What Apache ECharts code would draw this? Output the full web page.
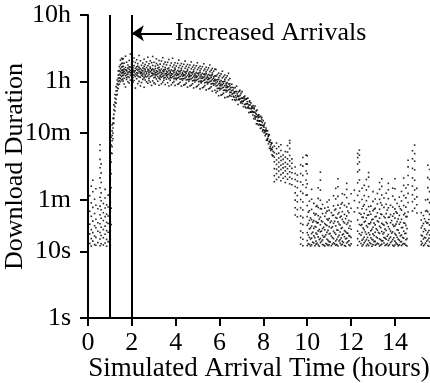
<!DOCTYPE html>
<html>
<head>
<meta charset="utf-8">
<script src="https://cdn.jsdelivr.net/npm/echarts@6/dist/echarts.min.js"></script>
<style>
  html, body { margin: 0; padding: 0; background: #fff; }
  #chart { width: 430px; height: 383px; }
</style>
</head>
<body>
<div id="chart"></div>
<script>
// duration axis ticks (seconds) and their labels
const yTickValues = [1, 10, 60, 600, 3600, 36000];
const yTickLabels = ['1s', '10s', '1m', '10m', '1h', '10h'];

// vertical markers (hours) and the annotation arrow
const markerHours = [1, 2];
const arrowStart = [3.83, 19100];
const arrowEnd = [2.0, 19100];
const arrowText = 'Increased Arrivals';

// each entry: [arrival hour, [download durations in seconds]]
const warmupCols = [
  [0.08, [13.2, 18.4, 25.7, 40.3, 69]],
  [0.15, [12.1, 15.6, 21.3, 33.8, 54, 96]],
  [0.22, [14.3, 19.2, 28.6, 46.1, 79, 118]],
  [0.30, [12.7, 17.1, 24.4, 37.2, 61]],
  [0.36, [12.4, 16.3, 22.8, 30.5, 49.6, 88]],
  [0.45, [13.6, 20.2, 27.1, 43.9]],
  [0.55, [12.2, 15.4, 19.3, 26.2, 35.7, 48.1, 65.4, 91, 128, 182, 243, 331, 402]],
  [0.60, [13.1, 17.4, 23.2, 31.6, 42.5, 57.9, 76, 109, 152, 208]],
  [0.70, [12.5, 16.1, 21.4, 29.2, 38.3, 52.6]],
  [0.78, [13.4, 18.2, 24.1, 33.5, 45.2, 63.7, 86]],
  [0.85, [12.0, 15.2, 20.6, 27.4, 36.4, 50.2]],
  [0.92, [14.1, 19.5, 26.3, 34.1, 46.8, 70.4]]
];

const rampCols = [
  [1.02, [12.3, 15.1, 20.4, 28.2, 40.1, 55.3, 79.6, 121, 168, 241]],
  [1.06, [25.4, 44.8, 91, 148, 221, 302, 398, 522]],
  [1.10, [298, 377, 463, 558, 652, 803]],
  [1.14, [497, 604, 718, 853, 1004]],
  [1.18, [846, 1003, 1152, 1348, 1604]],
  [1.23, [1296, 1507, 1748, 2012, 2296]],
  [1.28, [1703, 1948, 2253, 2597, 3012]],
  [1.33, [2287, 2614, 2893, 3318, 3794]],
  [1.38, [2812, 3187, 3596, 4023, 4487, 5215]],
  [1.43, [3294, 3712, 4096, 4617, 5183, 6024]],
  [1.48, [3588, 4012, 4493, 5021, 5597, 6415, 7530]],
  [1.53, [3804, 4291, 4812, 5287, 5913, 6688, 8012]],
  [1.58, [3912, 4406, 4887, 5412, 6017, 6793, 7821]]
];

const plateauCols = [
  [1.60, [3650, 4480, 4930, 5270, 6120, 7940]], [1.65, [4020, 4710, 5090, 5560, 6780, 3310]],
  [1.71, [2980, 4390, 4820, 5410, 5850, 8650]], [1.76, [3860, 4560, 5180, 5330, 7020, 4110]],
  [1.82, [4250, 4640, 4970, 5720, 6390, 3570]], [1.88, [3420, 4150, 5040, 5490, 6010, 7460]],
  [1.93, [4470, 4880, 5260, 5930, 9320, 3780]], [1.99, [3190, 4330, 4760, 5610, 6550, 5120]],
  [2.05, [4090, 4590, 5380, 5800, 7180, 3520]], [2.10, [3730, 4420, 4950, 5150, 6240, 8130]],
  [2.16, [2870, 4670, 5230, 5690, 6960, 4280]], [2.22, [3960, 4510, 4870, 5520, 5990, 7630]],
  [2.27, [4380, 4790, 5310, 6120, 3340, 6680]], [2.33, [3610, 4220, 5060, 5470, 5880, 8870]],
  [2.39, [4160, 4730, 5000, 5640, 7350, 3090]], [2.44, [3470, 4450, 4910, 5360, 6310, 4850]],
  [2.50, [4310, 4620, 5210, 5750, 6820, 3880]], [2.56, [2950, 4080, 4840, 5590, 6070, 7790]],
  [2.61, [3790, 4530, 5130, 5440, 6470, 4300]], [2.67, [4230, 4700, 4990, 5830, 7120, 3560]],
  [2.73, [3380, 4360, 5170, 5510, 6200, 8320]], [2.78, [4010, 4580, 4890, 5290, 6640, 3720]],
  [2.84, [3540, 4270, 5050, 5680, 5960, 7340]], [2.90, [4400, 4810, 5250, 5420, 6890, 3150]],
  [2.95, [3680, 4490, 4780, 5570, 6280, 8560]], [3.01, [4120, 4640, 5080, 5350, 7010, 3430]],
  [3.07, [3290, 4190, 4860, 5620, 6130, 4520]], [3.12, [3930, 4550, 4940, 5240, 6720, 7880]],
  [3.18, [4280, 4680, 5120, 5700, 3640, 6350]], [3.24, [3160, 4040, 4820, 5460, 5910, 7460]],
  [3.29, [3870, 4470, 5010, 5280, 6560, 4240]], [3.35, [4190, 4600, 4900, 5530, 7300, 3320]],
  [3.41, [3520, 4320, 4750, 5190, 6040, 8210]], [3.46, [4050, 4420, 5060, 5380, 6610, 3760]],
  [3.52, [3240, 4130, 4680, 5470, 5850, 7050]], [3.58, [3910, 4510, 4800, 5150, 6420, 4370]],
  [3.63, [4180, 4560, 4990, 5600, 3450, 6980]], [3.69, [3080, 3960, 4640, 5300, 5760, 7720]],
  [3.75, [3760, 4380, 4870, 5090, 6270, 4150]], [3.80, [4090, 4470, 4720, 5360, 6820, 3210]],
  [3.86, [3450, 4240, 4690, 5180, 5940, 8040]], [3.92, [3980, 4360, 4920, 5250, 6390, 3590]],
  [3.97, [3150, 4010, 4580, 5420, 5720, 6890]], [4.03, [3830, 4410, 4760, 4990, 6160, 4020]],
  [4.09, [4060, 4490, 4660, 5270, 6740, 3270]], [4.14, [3340, 4150, 4610, 5080, 5810, 7540]],
  [4.20, [3890, 4280, 4840, 5160, 6250, 3510]], [4.26, [3070, 3940, 4530, 5330, 5650, 6710]],
  [4.31, [3740, 4330, 4700, 4930, 6050, 3980]], [4.37, [3960, 4390, 4570, 5190, 6540, 3180]],
  [4.43, [3260, 4060, 4520, 4980, 5700, 7290]], [4.48, [3800, 4200, 4760, 5060, 6080, 3420]],
  [4.54, [2960, 3850, 4430, 5200, 5520, 6490]], [4.60, [3630, 4220, 4600, 4840, 5900, 3880]],
  [4.65, [3850, 4290, 4470, 5050, 6370, 3080]], [4.71, [3170, 3960, 4410, 4870, 5570, 7080]],
  [4.77, [3690, 4090, 4650, 4950, 5930, 3330]], [4.82, [2880, 3740, 4320, 5060, 5390, 6310]],
  [4.88, [3540, 4110, 4490, 4720, 5760, 3770]], [4.94, [3740, 4170, 4350, 4920, 6200, 2990]],
  [4.99, [3080, 3860, 4290, 4760, 5440, 6880]], [5.05, [3580, 3980, 4520, 4810, 5770, 3240]],
  [5.11, [2790, 3630, 4200, 4910, 5250, 6120]], [5.16, [3430, 3990, 4360, 4590, 5600, 3650]],
  [5.22, [3610, 4030, 4210, 4770, 6010, 2900]], [5.28, [2980, 3740, 4150, 4600, 5270, 6640]],
  [5.33, [3450, 3840, 4360, 4640, 5560, 3130]], [5.39, [2690, 3500, 4050, 4730, 5060, 5890]],
  [5.45, [3300, 3840, 4190, 4420, 5390, 3510]], [5.50, [3470, 3870, 4050, 4590, 5780, 2790]],
  [5.56, [2860, 3590, 3990, 4420, 5060, 6380]], [5.62, [3310, 3680, 4180, 4460, 5340, 3000]],
  [5.67, [2580, 3350, 3880, 4530, 4850, 5650]], [5.73, [3160, 3670, 4010, 4230, 5160, 3360]],
  [5.79, [3300, 3680, 3850, 4380, 5520, 2660]], [5.84, [2450, 3080, 3420, 3790, 4340, 5460]],
  [5.90, [2830, 3150, 3570, 3820, 4560, 2570]], [5.96, [2200, 2850, 3310, 3870, 4140, 4820]],
  [6.01, [2680, 3120, 3410, 3600, 4390, 2850]], [6.07, [2800, 3120, 3270, 3720, 4680, 2250]],
  [6.13, [2300, 2890, 3210, 3560, 4080, 5130]], [6.18, [2650, 2950, 3360, 3580, 4280, 2400]],
  [6.24, [2060, 2670, 3100, 3630, 3880, 4520]], [6.30, [2500, 2920, 3190, 3370, 4100, 2660]],
  [6.35, [2610, 2920, 3050, 3470, 4370, 2100]], [6.41, [2140, 2690, 3000, 3310, 3800, 4780]],
  [6.47, [2470, 2750, 3120, 3330, 3990, 2230]]
];

// falling edge: individual [hour, seconds] readings
const declinePts = [
  [6.51, 2900], [6.525, 2460], [6.53, 2155], [6.54, 2625], [6.56, 3265], [6.575, 2955], [6.58, 2330],
  [6.59, 1915], [6.61, 2670], [6.625, 2160], [6.63, 2395], [6.64, 2890], [6.66, 2095], [6.675, 2520],
  [6.68, 2410], [6.69, 1920], [6.71, 2915], [6.725, 1870], [6.73, 2210], [6.74, 2540], [6.76, 2060],
  [6.775, 2540], [6.78, 3060], [6.79, 1915], [6.81, 2340], [6.825, 2185], [6.83, 2145], [6.84, 1625],
  [6.86, 2500], [6.875, 1965], [6.88, 2150], [6.89, 1905], [6.91, 2585], [6.925, 2645], [6.93, 1970],
  [6.94, 2230], [6.96, 1715], [6.975, 1765], [6.98, 2385], [6.99, 2010], [7.01, 1825], [7.025, 2035],
  [7.03, 2535], [7.04, 1690], [7.06, 2020], [7.075, 1805], [7.08, 1840], [7.09, 1505], [7.11, 2125],
  [7.125, 2025], [7.13, 1890], [7.14, 1620], [7.16, 2180], [7.175, 1490], [7.18, 1645], [7.19, 1940],
  [7.21, 1440], [7.225, 1985], [7.23, 1970], [7.24, 1665], [7.26, 1790], [7.275, 1665], [7.28, 1445],
  [7.29, 2025], [7.31, 1500], [7.325, 1430], [7.33, 1600], [7.34, 1225], [7.36, 1785], [7.375, 1845],
  [7.38, 1420], [7.39, 1600], [7.41, 1245], [7.425, 1260], [7.43, 1715], [7.44, 1395], [7.46, 1240],
  [7.475, 1470], [7.48, 1520], [7.49, 1285], [7.51, 1430], [7.52, 1130], [7.525, 1250], [7.54, 1560],
  [7.55, 1240], [7.56, 995], [7.575, 1465], [7.58, 1395], [7.59, 1245], [7.60, 1095], [7.62, 1545],
  [7.625, 1035], [7.63, 980], [7.64, 1210], [7.66, 1070], [7.67, 1300], [7.675, 1160], [7.68, 835],
  [7.70, 1060], [7.71, 1335], [7.72, 930], [7.725, 830], [7.74, 1120], [7.75, 930], [7.76, 1030],
  [7.775, 1090], [7.78, 795], [7.79, 1140], [7.80, 920], [7.82, 820], [7.825, 915], [7.83, 1050],
  [7.84, 920], [7.86, 710], [7.87, 1080], [7.875, 795], [7.88, 800], [7.90, 910], [7.91, 720],
  [7.92, 980], [7.925, 1040], [7.94, 785], [7.95, 870], [7.96, 640], [7.975, 670], [7.98, 785],
  [7.99, 930], [8.00, 675], [8.02, 770], [8.025, 740], [8.03, 610], [8.04, 810], [8.06, 660],
  [8.07, 855], [8.075, 630], [8.08, 550], [8.10, 660], [8.11, 580], [8.12, 720], [8.125, 670],
  [8.14, 470], [8.15, 590], [8.16, 650], [8.175, 470], [8.18, 490], [8.19, 655], [8.20, 500],
  [8.22, 535], [8.225, 575], [8.23, 415], [8.24, 555], [8.26, 450], [8.27, 570], [8.275, 450],
  [8.28, 355], [8.30, 440], [8.31, 380], [8.32, 475], [8.325, 355], [8.34, 330], [8.35, 405],
  [8.36, 345], [8.375, 430], [8.38, 425], [8.39, 285], [8.40, 345], [8.42, 370], [8.425, 275],
  [8.43, 275], [8.44, 320]
];

const tailCols = [
  [8.50, [112, 138, 176, 223, 262, 307, 384]],
  [8.60, [121, 148, 173, 204, 238, 293, 352, 428]],
  [8.70, [131, 162, 187, 219, 254, 301, 377]],
  [8.80, [116, 143, 171, 198, 233, 268, 331, 402]],
  [8.90, [126, 152, 181, 207, 243, 283]],
  [9.00, [109, 134, 163, 188, 218, 262, 318]],
  [9.10, [122, 147, 176, 206, 248, 313, 391]],
  [9.20, [104, 131, 158, 192, 231, 278, 353, 427, 468]],
  [9.30, [101, 124, 153, 178, 212, 247]],
  [9.45, [35.4, 45.6, 59.3, 76.1, 94.8, 121, 149, 186]],
  [9.55, [33.2, 42.7, 55.9, 69.4, 91.2, 114, 141]],
  [9.70, [12.9, 16.2, 20.3, 26.4, 34.1, 45.3, 60.6, 80.2, 111, 148, 201]],
  [9.80, [12.2, 15.3, 19.1, 25.4, 32.3, 42.1, 55.4, 74.8, 101, 139, 192, 259]],
  [9.95, [70.3, 91.6, 119, 162, 208, 281]]
];

const lowCols = [
  [10.00, [12.3, 14.6, 19.2, 24.8, 33.5, 49, 71, 104, 148, 205, 275]], [10.05, [13.1, 17.7, 26.4, 39]],
  [10.10, [12.8, 16.3, 21.9, 29.4, 41, 57]], [10.15, [12.1, 15.4, 22.7, 32]],
  [10.20, [12.6, 15.9, 18.6, 24.1, 30.2, 43, 61, 86]], [10.25, [13.8, 19.5, 27.6]],
  [10.30, [13.4, 17.2, 22.3, 29.1, 37.6, 53]], [10.35, [12.2, 16.1, 23.8, 35.4]],
  [10.40, [12.9, 14.3, 18.9, 23.4, 28.2, 36.8, 47.5]], [10.45, [13.3, 18.2, 26.9, 49]],
  [10.50, [12.5, 16.6, 20.4, 27.2, 34.6, 45.8, 63, 91]], [10.55, [12.0, 15.1, 21.4, 30.7]],
  [10.60, [13.6, 15.7, 19.8, 25.3, 32.9, 44.2, 59, 84, 118, 156]], [10.65, [14.2, 20.3, 28.8, 43.7]],
  [10.70, [12.7, 14.9, 17.4, 22.1, 27.8, 37.2, 51]], [10.75, [12.4, 16.4, 23.1]],
  [10.80, [12.1, 16.8, 21.2, 26.3, 33.8, 44.9]], [10.85, [13.2, 17.9, 25.2, 37.9]],
  [10.90, [12.8, 15.3, 19.4, 24.6, 30.8, 40.5, 55.6]], [10.95, [12.3, 14.7, 20.8, 29.6, 46.3]],
  [11.00, [12.6, 14.1, 18.3, 23.7, 31.4, 41.6, 59.5]], [11.05, [13.9, 18.7, 27.3]],
  [11.10, [12.2, 17.1, 22.6, 28.7, 38.4]], [11.15, [12.9, 16.2, 23.5, 34.8]],
  [11.20, [13.5, 15.6, 20.1, 26.6, 35.2, 48.6, 69]], [11.25, [13.0, 19.1, 28.4, 41.8]],
  [11.30, [12.4, 14.4, 18.1, 24.3, 32.4, 43.5, 61.7, 89]], [11.35, [12.7, 15.2, 21.1, 31.6]],
  [11.40, [12.1, 16.5, 20.9, 27.9, 36.7, 49.8, 67.4, 94, 124]], [11.45, [14.4, 17.5, 25.9, 38.6]],
  [11.50, [13.3, 15.0, 19.6, 25.0, 32.7, 45.1]], [11.55, [12.5, 16.0, 22.2, 33.9, 51.5]],
  [11.60, [12.8, 14.2, 17.8, 22.9, 30.4, 39.7, 54.3, 74]], [11.65, [13.7, 18.4, 28.1]],
  [11.70, [12.3, 16.7, 20.6, 26.8, 36.1, 49.4, 71.5]], [11.75, [12.0, 15.5, 19.9, 31.2]],
  [11.80, [13.4, 15.8, 19.0, 25.6, 34.2, 46.7, 64.6, 86, 106]], [11.85, [14.0, 18.8, 27.1, 40.7]],
  [11.90, [12.6, 14.5, 17.3, 22.4, 29.3, 38.2, 52.4]], [11.95, [12.2, 16.9, 24.2]],
  [12.00, [13.0, 16.2, 21.6, 28.3, 44.6, 74]], [12.15, [39.5, 58.2, 83.7]],
  [12.30, [12.4, 15.6, 20.2, 29.8, 45.3, 69.8, 108, 158, 207, 258, 298]],
  [12.38, [14.1, 18.5, 25.4, 37.7, 54.9, 81, 119, 168, 222, 281, 334]],
  [12.45, [13.2, 17.6, 24.7, 36.3]],
  [12.50, [12.1, 14.8, 19.3, 25.5, 32.8, 43.9, 60.4, 89.3]], [12.55, [12.6, 15.4, 22.5, 32.6, 47.9]],
  [12.60, [13.5, 16.4, 21.3, 27.7, 37.4, 50.6, 69.2, 99]], [12.65, [14.3, 19.7, 28.5]],
  [12.70, [12.2, 15.1, 18.2, 24.5, 31.9, 42.8, 58.1, 84.5, 121]], [12.75, [12.9, 16.3, 23.3, 35.1]],
  [12.80, [12.3, 14.6, 19.1, 26.2, 35.5, 47.3, 66.8, 94.7, 131, 154]], [12.85, [13.6, 17.8, 26.1, 39.8]],
  [12.90, [13.1, 16.1, 20.5, 27.4, 36.4, 48.2]], [12.95, [12.0, 15.2, 21.5, 30.1]],
  [13.00, [12.7, 14.9, 18.4, 23.2, 30.6, 41.2, 56.8, 79.4]], [13.05, [14.1, 17.4, 26.7, 43.1]],
  [13.10, [12.4, 14.2, 19.5, 25.1, 33.3, 44.5, 61.6]], [13.15, [12.8, 16.6, 22.0, 33.7]],
  [13.20, [13.3, 16.0, 21.0, 28.9, 38.1, 51.9, 74.6]], [13.25, [13.0, 19.3, 27.9]],
  [13.30, [12.1, 15.5, 18.7, 24.0, 31.7, 43.2, 60.9, 86.2, 109]], [13.35, [12.5, 15.0, 22.8, 36.5, 54.2]],
  [13.40, [12.9, 14.4, 20.0, 26.5, 36.0, 49.9, 70.7, 95.4, 124]], [13.45, [14.5, 18.3, 25.7]],
  [13.50, [13.4, 16.2, 19.2, 24.9, 33.6, 46.1, 63.8]], [13.55, [12.3, 15.9, 21.7, 32.2]],
  [13.60, [12.6, 15.3, 20.7, 27.6, 37.1, 51.3, 75.2]], [13.65, [13.1, 17.0, 26.3, 41.9]],
  [13.70, [12.2, 14.7, 18.0, 23.6, 32.5, 45.4, 62.3, 84.9, 106]], [13.75, [12.7, 15.7, 21.8, 32.9]],
  [13.80, [13.6, 16.5, 20.3, 27.0, 35.9, 49.6]], [13.85, [14.2, 18.9, 29.2]],
  [13.90, [12.4, 15.1, 19.7, 25.4, 33.9, 46.5, 67.9, 89.6]], [13.95, [12.0, 16.1, 23.9, 36.9]],
  [14.00, [12.5, 14.3, 18.6, 24.4, 31.8, 43.7, 60.2, 87.8, 124]], [14.05, [13.5, 17.6, 25.8, 39.4]],
  [14.10, [12.9, 16.4, 21.2, 28.1, 37.8, 52.7]], [14.15, [12.2, 15.3, 20.9, 30.9]],
  [14.20, [12.6, 14.8, 19.0, 25.7, 34.9, 47.6, 65.7]], [14.25, [14.0, 17.2, 27.5, 43.8]],
  [14.30, [12.3, 14.1, 17.7, 22.8, 30.5, 41.9, 57.4, 79.9]], [14.35, [12.8, 16.2, 23.0]],
  [14.40, [13.2, 15.9, 20.2, 26.9, 35.7, 49.1, 69.5, 98.6, 127]], [14.45, [13.0, 18.6, 26.6, 37.6]],
  [14.50, [12.4, 15.0, 18.8, 24.7, 33.4, 46.4, 64.1, 89.9]], [14.55, [12.1, 15.6, 22.1, 33.5]],
  [14.60, [39.2, 54.6, 74.8, 101, 139, 187, 236]],
  [14.80, [40.6, 56.1, 71.3, 96.2, 128, 178, 248, 327]],
  [14.90, [44.7, 61.4, 84.3, 118, 169, 228, 296, 398]],
  [15.00, [37.9, 50.4, 66.2, 89.1]],
  [15.20, [12.6, 14.2, 17.6, 22.7, 29.7, 38.3]], [15.25, [13.3, 17.1, 24.4]],
  [15.30, [12.2, 15.4, 19.9, 26.4, 34.7]], [15.35, [12.7, 16.3, 21.9, 31.1]],
  [15.40, [13.4, 16.0, 20.8, 28.2, 40.3, 59.7]], [15.45, [14.3, 18.1, 26.8, 41.4]],
  [15.50, [12.3, 14.9, 19.4, 26.9, 39.6, 60.8, 91.2, 129, 198]], [15.55, [12.0, 15.8, 20.7, 30.3]],
  [15.58, [13.9, 17.7, 25.1, 36.2, 54.4, 79.6, 121, 171]]
];

function toPoints(cols) {
  const pts = [];
  cols.forEach(function (c) {
    c[1].forEach(function (v) { pts.push([c[0], v]); });
  });
  return pts;
}

const points = [].concat(
  toPoints(warmupCols), toPoints(rampCols), toPoints(plateauCols),
  declinePts, toPoints(tailCols), toPoints(lowCols)
);

const font = 'Liberation Serif';
const black = '#000';

function yLabel(v) {
  for (let i = 0; i < yTickValues.length; i++) {
    if (Math.abs(Math.log10(v) - Math.log10(yTickValues[i])) < 1e-6) return yTickLabels[i];
  }
  return '';
}

const chart = echarts.init(document.getElementById('chart'));
chart.setOption({
  animation: false,
  grid: { left: 88, right: 0, top: 15, bottom: 65, outerBoundsMode: 'none', containLabel: false },
  xAxis: {
    type: 'value',
    min: 0,
    max: 15.6,
    interval: 2,
    name: 'Simulated Arrival Time (hours)',
    nameLocation: 'middle',
    nameGap: 37,
    nameMoveOverlap: false,
    nameTextStyle: { color: black, fontFamily: font, fontSize: 27 },
    axisLine: { show: true, onZero: false, lineStyle: { color: black, width: 2 } },
    axisTick: { show: true, length: 8, lineStyle: { color: black, width: 2 } },
    axisLabel: { color: black, fontFamily: font, fontSize: 26, margin: 12, showMaxLabel: false },
    splitLine: { show: false }
  },
  yAxis: {
    type: 'log',
    logBase: 10,
    min: 1,
    max: 36000,
    name: 'Download Duration',
    nameLocation: 'middle',
    nameGap: 60,
    nameMoveOverlap: false,
    nameTextStyle: { color: black, fontFamily: font, fontSize: 26 },
    axisLine: { show: true, lineStyle: { color: black, width: 2 } },
    axisTick: { show: true, customValues: yTickValues, length: 8, lineStyle: { color: black, width: 2 } },
    axisLabel: { customValues: yTickValues, formatter: yLabel, color: black, fontFamily: font, fontSize: 26, margin: 17 },
    splitLine: { show: false },
    minorTick: { show: false }
  },
  series: [
    {
      type: 'scatter',
      data: points,
      symbol: 'rect',
      symbolSize: 1.6,
      itemStyle: { color: '#000', opacity: 0.85 },
      silent: true,
      markLine: {
        silent: true,
        symbol: ['none', 'none'],
        label: { show: false },
        lineStyle: { color: black, width: 2, type: 'solid' },
        data: markerHours.map(function (h) { return { xAxis: h }; })
      }
    },
    {
      type: 'scatter',
      data: [],
      silent: true,
      markLine: {
        silent: true,
        symbol: ['none', 'arrow'],
        symbolSize: 12,
        lineStyle: { color: black, width: 2, type: 'solid' },
        label: {
          show: true,
          position: 'start',
          formatter: arrowText,
          color: black,
          fontFamily: font,
          fontSize: 26,
          distance: 3
        },
        data: [[{ coord: arrowStart }, { coord: arrowEnd }]]
      }
    }
  ]
});
</script>
</body>
</html>
